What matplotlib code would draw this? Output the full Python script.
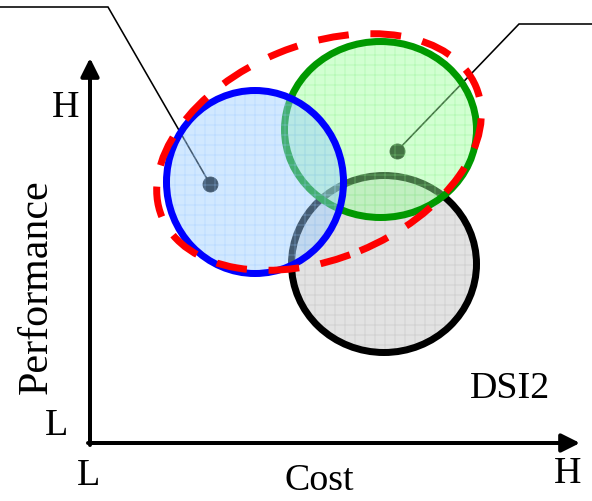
import matplotlib
matplotlib.use("Agg")
import matplotlib.pyplot as plt
from matplotlib.patches import Ellipse

# figure is drawn at 60 dpi so that the '+' hatch gives a 10 px grid
DPI = 60
PT = 72 / DPI          # points per pixel

plt.rcParams['font.family'] = ['Liberation Serif', 'DejaVu Serif']
plt.rcParams['hatch.linewidth'] = 1.0 * PT

##########################
# design space positions #
##########################
# data units ~ pixels, origin at the corner of the two axis arrows
circle_names = ["gray", "green", "blue"]          # drawing order, bottom first
circle_centers = [(294, 179), (290.5, 313.5), (165, 261)]
circle_widths = [185, 192, 177]
circle_heights = [177, 176, 183]
fill_colors = ["#E2E2E2", "#99FF99", "#99CCFF"]
fill_alphas = [1.0, 0.45, 0.45]
hatch_colors = ["#D2D2D2", "#88F088", "#99C8FF"]
hatch_alphas = [1.0, 0.35, 0.35]
edge_colors = ["#000000", "#009900", "#0000FF"]

# the dashed envelope
env_center = (229, 291)
env_width = 340
env_height = 214
env_angle = 22.5

# design points and their call-out lines
point_x = [120, 307]
point_y = [259, 292]
leader_x = [[120, 18, -90], [307, 429, 502]]
leader_y = [[259, 436, 436], [292, 419, 419]]

axis_length_x = 490
axis_length_y = 385
tick_labels = ["L", "H"]
x_label = "Cost"
y_label = "Performance"
tag = "DSI2"

fig = plt.figure(figsize=(592 / DPI, 501 / DPI), dpi=DPI)
ax = fig.add_axes([0, 0, 1, 1])
ax.set_xlim(-90, 502)
ax.set_ylim(-58, 443)
ax.axis('off')

# leader lines and dots sit under the translucent circles
for lx, ly in zip(leader_x, leader_y):
    ax.plot(lx, ly, color='black', lw=1.6 * PT, zorder=1, solid_joinstyle='miter')
ax.plot(point_x, point_y, 'o', color='black', ms=15 * PT, zorder=1)

z = 2
for c, w, h, fc, fa, hc, ha, ec in zip(circle_centers, circle_widths, circle_heights,
                                        fill_colors, fill_alphas, hatch_colors,
                                        hatch_alphas, edge_colors):
    ax.add_patch(Ellipse(c, w, h, facecolor=fc, edgecolor='none', alpha=fa, zorder=z))
    ax.add_patch(Ellipse(c, w, h, facecolor='none', edgecolor=hc, lw=0, hatch='+',
                         alpha=ha, zorder=z + 0.1))
    ax.add_patch(Ellipse(c, w, h, facecolor='none', edgecolor=ec, lw=7 * PT, zorder=z + 0.2))
    z += 1

ax.add_patch(Ellipse(env_center, env_width, env_height, angle=env_angle,
                     facecolor='none', edgecolor='#FF0000', lw=7 * PT,
                     linestyle=(0, (4.4, 3.1)), zorder=10))

# axis arrows
arrow = dict(arrowstyle='-|>,head_length=0.96,head_width=0.48', color='black',
             lw=4 * PT, mutation_scale=16 * PT, shrinkA=0, shrinkB=0)
ax.annotate('', xy=(axis_length_x, 0), xytext=(-2, 0), arrowprops=arrow, zorder=11)
ax.annotate('', xy=(0, axis_length_y), xytext=(0, -2), arrowprops=arrow, zorder=11)

lab = 38 * PT
ax.text(-24, 326, tick_labels[1], fontsize=lab, ha='center', va='baseline')
ax.text(-33, 8, tick_labels[0], fontsize=lab, ha='center', va='baseline')
ax.text(-1, -42, tick_labels[0], fontsize=lab, ha='center', va='baseline')
ax.text(478, -40, tick_labels[1], fontsize=lab, ha='center', va='baseline')
ax.text(229, -47, x_label, fontsize=38 * PT, ha='center', va='baseline')
ax.text(-43, 156, y_label, fontsize=42 * PT, ha='center', va='baseline',
        rotation=90, rotation_mode='anchor')
ax.text(420, 45, tag, fontsize=38 * PT, ha='center', va='baseline')

fig.savefig('out.png', dpi=DPI)
